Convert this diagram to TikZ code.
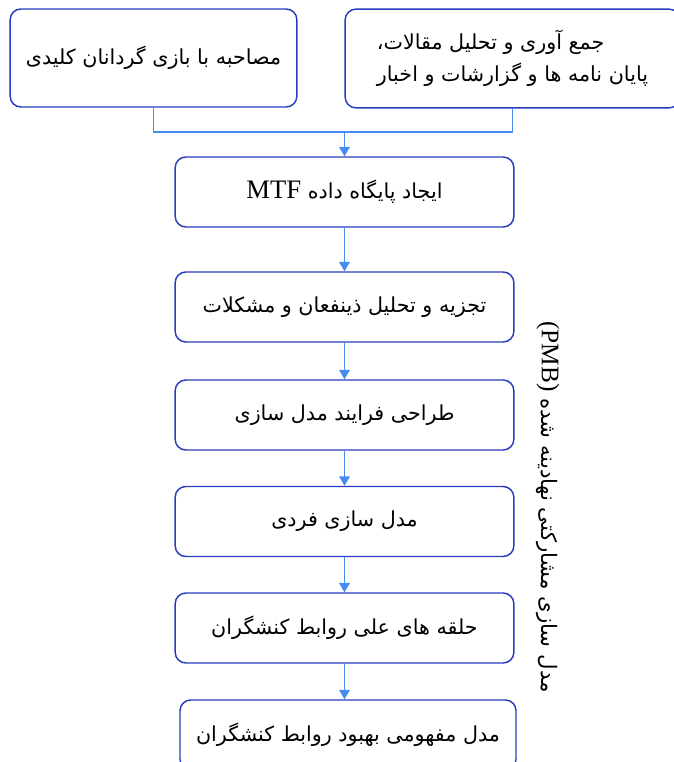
\documentclass[tikz,border=0pt]{standalone}
\usepackage{fontspec}
\setmainfont{Liberation Serif}
\newfontfamily\farsi[Script=Arabic]{DejaVu Sans}
\TeXXeTstate=1
\usetikzlibrary{arrows.meta}
\definecolor{boxblue}{RGB}{40,60,190}
\definecolor{lineblue}{RGB}{70,140,240}

\begin{document}
\begin{tikzpicture}
[x=0.75pt,y=-0.75pt,
 boxdecorate/.style={draw=boxblue,line width=1.1pt,rounded corners=8pt,
   minimum width=254pt,minimum height=52.5pt,
   font=\farsi\fontsize{15.5}{24}\selectfont},
 linedecorate/.style={-,draw=lineblue,line width=0.9pt},
 arrowdecorate/.style={-{Triangle[width=8pt,length=7pt]},draw=lineblue,
   fill=lineblue,line width=0.9pt}]
\useasboundingbox (0,0) rectangle (673,762);
%% top boxes
\node (A) at (153.5,58) [boxdecorate,minimum width=215pt,minimum height=73.5pt]
  {\beginR مصاحبه با بازی گردانان کلیدی\endR};
\node (B) at (512.5,58.5) [boxdecorate,minimum width=251pt,minimum height=74pt,
  align=left]
  {\beginR جمع آوری و تحلیل مقالات،\endR\\
   \beginR پایان نامه ها و گزارشات و اخبار\endR};
%% steps of the method
\foreach \nodename/\y/\words in {
  C/192/{ایجاد پایگاه داده \beginL{\rmfamily\fontsize{20}{24}\selectfont MTF}\endL},
  D/307/{تجزیه و تحلیل ذینفعان و مشکلات},
  E/415/{طراحی فرایند مدل سازی},
  F/521.5/{مدل سازی فردی},
  G/628/{حلقه های علی روابط کنشگران}} {
  \node (\nodename) at (344.5,\y) [boxdecorate] {\beginR\words\endR};
}
\node (H) at (348,735) [boxdecorate,minimum width=252pt]
  {\beginR مدل مفهومی بهبود روابط کنشگران\endR};
%% side label
\node (side) at (548,507) [rotate=-90,font=\farsi\fontsize{16}{20}\selectfont]
  {\beginR مدل سازی مشارکتی نهادینه شده
   \beginL{\rmfamily\fontsize{19}{20}\selectfont (PMB)}\endL\endR};
%% edges or lines
\coordinate (join) at (344.5,132);
\draw[linedecorate] (A.south) |- (join);
\draw[linedecorate] (B.south) |- (join);
\draw[arrowdecorate] (join) -- (C.north);
\foreach \startnode/\endnode in {C/D, D/E, E/F, F/G, G/H} {
  \draw[arrowdecorate] (\startnode.south) -- (\startnode.south |- \endnode.north);
}
\end{tikzpicture}
\end{document}
